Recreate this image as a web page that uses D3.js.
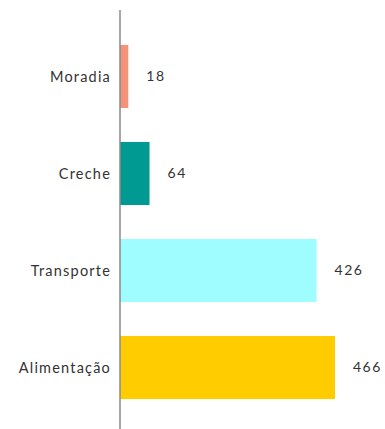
<!DOCTYPE html>
<html>
<head>
<meta charset="utf-8">
<script src="https://cdn.jsdelivr.net/npm/d3@7"></script>
<style>
  html, body { margin: 0; padding: 0; background: #fff; }
  svg { display: block; }
  text { font-family: Lato, "Open Sans", sans-serif; fill: #333; }
</style>
</head>
<body>
<svg id="chart" width="385" height="429"></svg>
<script>
// Expense categories and their amounts
const categories = ["Moradia", "Creche", "Transporte", "Alimentação"];
const values = [18, 64, 426, 466];
const colors = ["#F4937A", "#009A93", "#9FFCFF", "#FFCC00"];

const svg = d3.select("#chart");
const x0 = 120;

const x = d3.scaleLinear().domain([0, 466]).range([x0, 335]);
const y = d3.scaleBand().domain(categories).range([11, 433])
  .paddingInner(0.35).paddingOuter(0.35);

const rows = categories.map((c, i) => ({ c, v: values[i], col: colors[i] }));

svg.selectAll("rect.bar").data(rows).join("rect")
  .attr("class", "bar")
  .attr("x", x(0))
  .attr("y", d => y(d.c))
  .attr("width", d => x(d.v) - x(0))
  .attr("height", y.bandwidth())
  .attr("fill", d => d.col);

// Vertical baseline
svg.append("line")
  .attr("x1", x0).attr("x2", x0)
  .attr("y1", 10).attr("y2", 429)
  .attr("stroke", "#8a8a8a").attr("stroke-width", 1.5);

// Category labels
svg.selectAll("text.cat").data(rows).join("text")
  .attr("class", "cat")
  .attr("x", 111)
  .attr("y", d => y(d.c) + y.bandwidth() / 2)
  .attr("dy", "0.35em")
  .attr("text-anchor", "end")
  .attr("font-size", 14.5)
  .attr("letter-spacing", 1.2)
  .text(d => d.c);

// Value labels
svg.selectAll("text.val").data(rows).join("text")
  .attr("class", "val")
  .attr("x", d => x(d.v) + 18)
  .attr("y", d => y(d.c) + y.bandwidth() / 2)
  .attr("dy", "0.35em")
  .attr("font-size", 14)
  .attr("letter-spacing", 1.5)
  .text(d => d.v);
</script>
</body>
</html>
